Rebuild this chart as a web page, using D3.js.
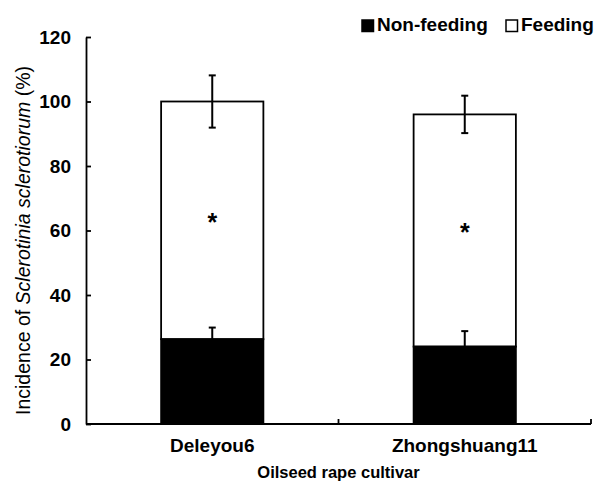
<!DOCTYPE html>
<html>
<head>
<meta charset="utf-8">
<script src="https://cdn.jsdelivr.net/npm/d3@7"></script>
<style>
  html, body { margin: 0; padding: 0; background: #fff; }
  svg { display: block; }
</style>
</head>
<body>
<svg id="chart" width="594" height="482"></svg>
<script>
// ---- data ----
const categories = ["Deleyou6", "Zhongshuang11"];
const nonFeeding = [26.3, 24.0];
const nonFeedingErr = [3.6, 4.8];
const feeding = [73.7, 72.0];
const feedingErr = [8.1, 5.8];
const starValues = [64.2, 61.1];
const yTicks = [0, 20, 40, 60, 80, 100, 120];
const legendLabels = ["Non-feeding", "Feeding"];
const legendFills = ["#000", "#fff"];

(function () {
// ---- layout ----
const svg = d3.select("#chart");
const mLeft = 86, mRight = 591, mTop = 37, mBottom = 424;
const font = "'Liberation Sans', Arial, sans-serif";

const x = d3.scaleBand().domain(categories).range([mLeft, mRight]).padding(0);
const y = d3.scaleLinear().domain([0, 120]).range([mBottom, mTop]);
const barW = x.bandwidth() * 0.405;
const cx = c => x(c) + x.bandwidth() / 2;

// y axis
const yAxis = svg.append("g")
  .attr("transform", `translate(${mLeft},0)`)
  .call(d3.axisLeft(y).tickValues(yTicks).tickSizeInner(-5).tickSizeOuter(0).tickPadding(15));
yAxis.select(".domain").attr("stroke", "#000").attr("stroke-width", 1.8);
yAxis.selectAll(".tick line").attr("stroke", "#000").attr("stroke-width", 1.8);
yAxis.selectAll(".tick text")
  .attr("font-family", font).attr("font-size", 19).attr("font-weight", "bold").attr("fill", "#000");

// bars
const rows = categories.map((c, i) => ({c, nf: nonFeeding[i], nfe: nonFeedingErr[i], f: feeding[i], fe: feedingErr[i], star: starValues[i]}));

const g = svg.append("g");
g.selectAll("rect.feed").data(rows).join("rect").attr("class", "feed")
  .attr("x", d => cx(d.c) - barW / 2)
  .attr("y", d => y(d.nf + d.f))
  .attr("width", barW)
  .attr("height", d => y(d.nf) - y(d.nf + d.f))
  .attr("fill", "#fff").attr("stroke", "#000").attr("stroke-width", 1.8);
g.selectAll("rect.nonfeed").data(rows).join("rect").attr("class", "nonfeed")
  .attr("x", d => cx(d.c) - barW / 2)
  .attr("y", d => y(d.nf))
  .attr("width", barW)
  .attr("height", d => y(0) - y(d.nf))
  .attr("fill", "#000").attr("stroke", "#000").attr("stroke-width", 1.8);

// error bars
const cap = 3.5;
const eb = svg.append("g").attr("stroke", "#000").attr("stroke-width", 2).attr("fill", "none");
rows.forEach(d => {
  const X = cx(d.c);
  eb.append("line").attr("x1", X).attr("x2", X).attr("y1", y(d.nf)).attr("y2", y(d.nf + d.nfe));
  eb.append("line").attr("x1", X - cap).attr("x2", X + cap).attr("y1", y(d.nf + d.nfe)).attr("y2", y(d.nf + d.nfe));
  const t = d.nf + d.f;
  eb.append("line").attr("x1", X).attr("x2", X).attr("y1", y(t - d.fe)).attr("y2", y(t + d.fe));
  eb.append("line").attr("x1", X - cap).attr("x2", X + cap).attr("y1", y(t + d.fe)).attr("y2", y(t + d.fe));
  eb.append("line").attr("x1", X - cap).attr("x2", X + cap).attr("y1", y(t - d.fe)).attr("y2", y(t - d.fe));
});

// stars
svg.selectAll("text.star").data(rows).join("text").attr("class", "star")
  .attr("x", d => cx(d.c)).attr("y", d => y(d.star)).attr("dy", "0.56em")
  .attr("text-anchor", "middle")
  .attr("font-family", font).attr("font-size", 25).attr("font-weight", "bold")
  .text("*");

// x axis line + inward ticks at band boundaries
const xa = svg.append("g").attr("stroke", "#000").attr("stroke-width", 1.8);
xa.append("line").attr("x1", mLeft).attr("x2", mRight).attr("y1", y(0)).attr("y2", y(0));
categories.forEach(c => {
  const bx = x(c) + x.bandwidth();
  xa.append("line").attr("x1", bx).attr("x2", bx).attr("y1", y(0)).attr("y2", y(0) - 5);
});

// category labels
svg.selectAll("text.cat").data(categories).join("text").attr("class", "cat")
  .attr("x", d => cx(d)).attr("y", 452)
  .attr("text-anchor", "middle")
  .attr("font-family", font).attr("font-size", 19).attr("font-weight", "bold")
  .text(d => d);

// x title
svg.append("text")
  .attr("x", (mLeft + mRight) / 2).attr("y", 478)
  .attr("text-anchor", "middle")
  .attr("font-family", font).attr("font-size", 16.5).attr("font-weight", "bold")
  .text("Oilseed rape cultivar");

// y title
const yt = svg.append("text")
  .attr("transform", `translate(30,${(mTop + mBottom) / 2 + 10}) rotate(-90)`)
  .attr("text-anchor", "middle")
  .attr("font-family", font).attr("font-size", 19.5);
yt.append("tspan").text("Incidence of ");
yt.append("tspan").attr("font-style", "italic").text("Sclerotinia sclerotiorum");
yt.append("tspan").text(" (%)");

// legend
const legendX = [362, 506];
const lg = svg.append("g");
legendLabels.forEach((l, i) => {
  lg.append("rect").attr("x", legendX[i]).attr("y", 20).attr("width", 11.5).attr("height", 11.5)
    .attr("fill", legendFills[i]).attr("stroke", "#000").attr("stroke-width", 1.5);
  lg.append("text").attr("x", legendX[i] + 15).attr("y", 31)
    .attr("font-family", font).attr("font-size", 19).attr("font-weight", "bold").text(l);
});
})();
</script>
</body>
</html>
